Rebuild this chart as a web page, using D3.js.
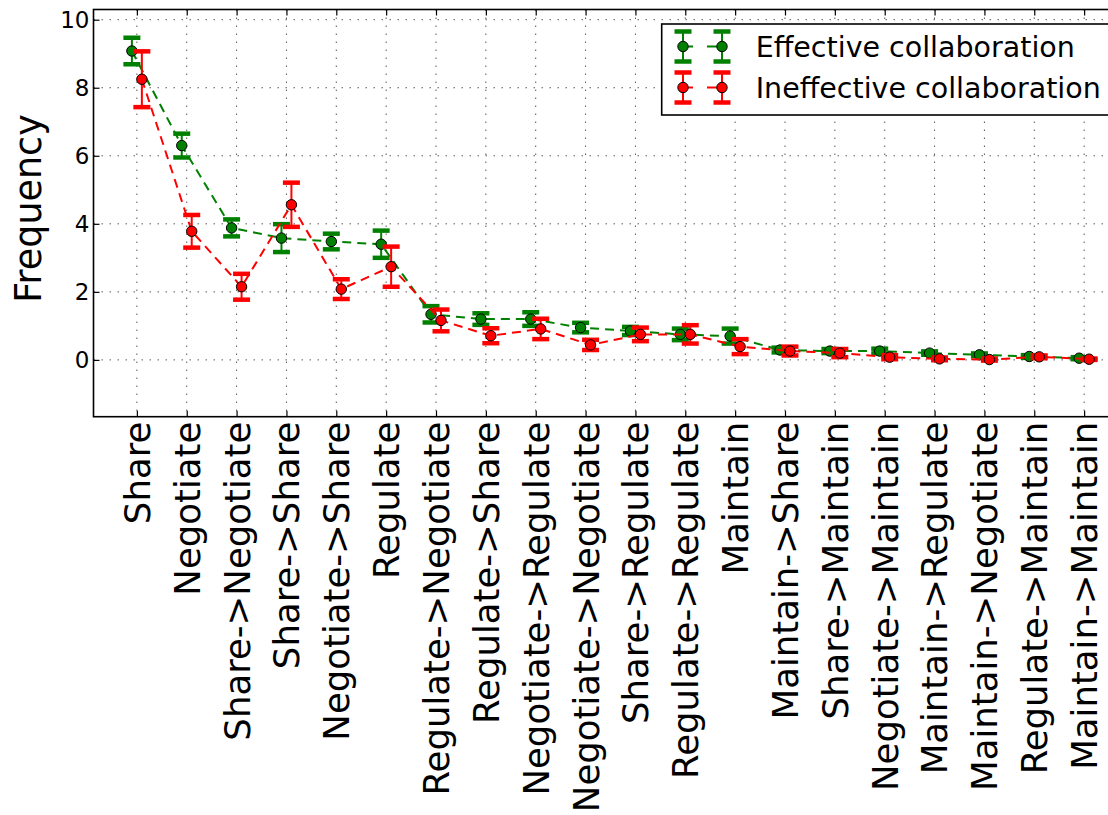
<!DOCTYPE html>
<html>
<head>
<meta charset="utf-8">
<script src="https://cdn.jsdelivr.net/npm/d3@7"></script>
<style>
    body { margin: 0; background: #fff; }
    svg { display: block; }
    svg text { font-family: "DejaVu Sans", sans-serif; }
</style>
</head>
<body>
<div id="chart"></div>
<script>
const categories = [
    "Share", "Negotiate", "Share->Negotiate", "Share->Share", "Negotiate->Share",
    "Regulate", "Regulate->Negotiate", "Regulate->Share", "Negotiate->Regulate",
    "Negotiate->Negotiate", "Share->Regulate", "Regulate->Regulate", "Maintain",
    "Maintain->Share", "Share->Maintain", "Negotiate->Maintain", "Maintain->Regulate",
    "Maintain->Negotiate", "Regulate->Maintain", "Maintain->Maintain"
];
const effectiveMean = [9.08, 6.30, 3.88, 3.58, 3.48, 3.40, 1.34, 1.20, 1.20, 0.95, 0.85, 0.75, 0.70, 0.29, 0.26, 0.26, 0.20, 0.15, 0.10, 0.05];
const effectiveErr = [0.39, 0.35, 0.25, 0.41, 0.23, 0.40, 0.24, 0.17, 0.20, 0.14, 0.12, 0.17, 0.22, 0.07, 0.06, 0.07, 0.05, 0.04, 0.04, 0.03];
const ineffectiveMean = [8.25, 3.78, 2.15, 4.56, 2.08, 2.74, 1.16, 0.71, 0.91, 0.44, 0.75, 0.75, 0.39, 0.26, 0.20, 0.08, 0.03, 0.01, 0.09, 0.02];
const ineffectiveErr = [0.82, 0.48, 0.38, 0.65, 0.29, 0.59, 0.32, 0.22, 0.30, 0.15, 0.20, 0.27, 0.22, 0.13, 0.12, 0.06, 0.04, 0.03, 0.04, 0.02];
const yTicks = [0, 2, 4, 6, 8, 10];
const seriesNames = ["Effective collaboration", "Ineffective collaboration"];
const seriesColors = ["#008000", "#ff0000"];

const width = 1108, height = 815;
const plot = {left: 93.5, right: 1127.5, top: 9.5, bottom: 416.7};
const font = "DejaVu Sans";

const svg = d3.select("#chart").append("svg")
    .attr("width", width)
    .attr("height", height);

//Scales: the axes run past the right edge of the picture, like the original
const x = d3.scalePoint()
    .domain(categories)
    .range([plot.left, plot.right])
    .padding(0.87);
const y = d3.scaleLinear()
    .domain([-1.67, 10.3])
    .range([plot.bottom, plot.top]);

const series = [
    {name: seriesNames[0], color: seriesColors[0], shift: -0.1,
     data: categories.map((c, i) => ({cat: c, v: effectiveMean[i], e: effectiveErr[i]}))},
    {name: seriesNames[1], color: seriesColors[1], shift: 0.1,
     data: categories.map((c, i) => ({cat: c, v: ineffectiveMean[i], e: ineffectiveErr[i]}))}
];

//Dotted grid
const grid = svg.append("g")
    .attr("stroke", "#000")
    .attr("stroke-opacity", 0.65)
    .attr("stroke-width", 1)
    .attr("stroke-dasharray", "1.5,6.5");
grid.selectAll(".gx").data(categories).enter().append("line")
    .attr("x1", d => x(d)).attr("x2", d => x(d))
    .attr("y1", plot.top).attr("y2", plot.bottom);
grid.selectAll(".gy").data(yTicks).enter().append("line")
    .attr("x1", plot.left).attr("x2", plot.right)
    .attr("y1", d => y(d)).attr("y2", d => y(d));

//Axes, ticks pointing inward
const xAxisBottom = svg.append("g")
    .attr("transform", "translate(0," + plot.bottom + ")")
    .call(d3.axisBottom(x).tickSizeInner(-6).tickSizeOuter(0))
    .attr("font-family", font);
xAxisBottom.select(".domain").remove();
xAxisBottom.selectAll("line").attr("stroke-width", 1.2);
//Rotated labels, ending just under the axis and centred on the tick
xAxisBottom.selectAll("text")
    .attr("font-size", 35.5)
    .attr("fill", "#000")
    .attr("text-anchor", "end")
    .attr("transform", "rotate(-90)")
    .attr("x", -5)
    .attr("y", 0)
    .attr("dy", "0.35em");

const xAxisTop = svg.append("g")
    .attr("transform", "translate(0," + plot.top + ")")
    .call(d3.axisTop(x).tickSizeInner(-6).tickSizeOuter(0).tickFormat(""));
xAxisTop.select(".domain").remove();
xAxisTop.selectAll("line").attr("stroke-width", 1.2);

const yAxis = svg.append("g")
    .attr("transform", "translate(" + plot.left + ",0)")
    .call(d3.axisLeft(y).tickValues(yTicks).tickSizeInner(-6).tickSizeOuter(0).tickPadding(4))
    .attr("font-family", font);
yAxis.select(".domain").remove();
yAxis.selectAll("line").attr("stroke-width", 1.2);
yAxis.selectAll("text").attr("font-size", 23).attr("fill", "#000");

//Frame
svg.append("rect")
    .attr("x", plot.left).attr("y", plot.top)
    .attr("width", plot.right - plot.left).attr("height", plot.bottom - plot.top)
    .attr("fill", "none").attr("stroke", "#000").attr("stroke-width", 1.6);

//Y label
svg.append("text")
    .attr("transform", "translate(41,208.5) rotate(-90)")
    .attr("text-anchor", "middle")
    .attr("font-size", 36.5)
    .attr("fill", "#000")
    .text("Frequency");

//Series: dashed line, error bars, markers
const step = x.step();
series.forEach(s => {
    const px = d => x(d.cat) + s.shift * step;
    const g = svg.append("g");

    g.append("path")
        .datum(s.data)
        .attr("fill", "none")
        .attr("stroke", s.color)
        .attr("stroke-width", 2)
        .attr("stroke-dasharray", "9,6")
        .attr("d", d3.line().x(px).y(d => y(d.v)));

    g.selectAll(".err").data(s.data).enter().append("line")
        .attr("x1", px).attr("x2", px)
        .attr("y1", d => y(d.v - d.e)).attr("y2", d => y(d.v + d.e))
        .attr("stroke", s.color).attr("stroke-width", 2);

    [-1, 1].forEach(sign => {
        g.selectAll(".cap" + sign).data(s.data).enter().append("line")
            .attr("x1", d => px(d) - 8.5).attr("x2", d => px(d) + 8.5)
            .attr("y1", d => y(d.v + sign * d.e)).attr("y2", d => y(d.v + sign * d.e))
            .attr("stroke", s.color).attr("stroke-width", 4.5);
    });

    g.selectAll(".pt").data(s.data).enter().append("circle")
        .attr("cx", px).attr("cy", d => y(d.v))
        .attr("r", 5.2)
        .attr("fill", s.color)
        .attr("stroke", "#000").attr("stroke-width", 1);
});

//Legend
const legend = svg.append("g");
legend.append("rect")
    .attr("x", 661.7).attr("y", 24)
    .attr("width", 460).attr("height", 91)
    .attr("fill", "#fff").attr("stroke", "#000").attr("stroke-width", 1.6);

series.forEach((s, i) => {
    const cy = 46.5 + i * 41;
    const row = legend.append("g");
    row.append("line")
        .attr("x1", 683).attr("x2", 722).attr("y1", cy).attr("y2", cy)
        .attr("stroke", s.color).attr("stroke-width", 2)
        .attr("stroke-dasharray", "10,14");
    [683, 722].forEach(mx => {
        row.append("line")
            .attr("x1", mx).attr("x2", mx).attr("y1", cy - 15).attr("y2", cy + 15)
            .attr("stroke", s.color).attr("stroke-width", 2);
        [-15, 15].forEach(off => {
            row.append("line")
                .attr("x1", mx - 8.5).attr("x2", mx + 8.5)
                .attr("y1", cy + off).attr("y2", cy + off)
                .attr("stroke", s.color).attr("stroke-width", 4.5);
        });
        row.append("circle")
            .attr("cx", mx).attr("cy", cy).attr("r", 5.2)
            .attr("fill", s.color).attr("stroke", "#000").attr("stroke-width", 1);
    });
    row.append("text")
        .attr("x", 755.7).attr("y", cy + 10)
        .attr("font-size", 28.5)
        .attr("fill", "#000")
        .text(s.name);
});
</script>
</body>
</html>
